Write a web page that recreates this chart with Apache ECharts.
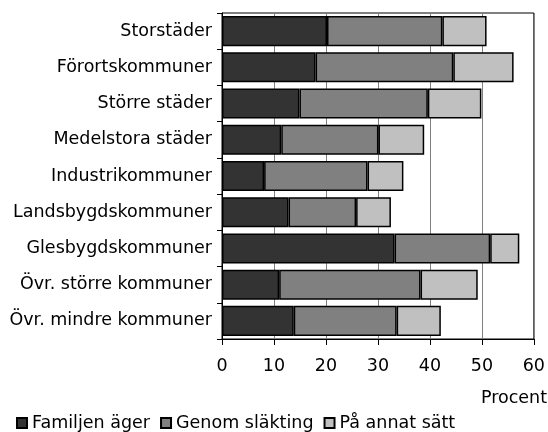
<!DOCTYPE html>
<html><head><meta charset="utf-8">
<script src="https://cdn.jsdelivr.net/npm/echarts@6/dist/echarts.min.js"></script>
<style>html,body{margin:0;padding:0;background:#fff}#c{width:548px;height:432px}</style>
</head><body><div id="c"></div>
<script>
const categories = ["Storstäder","Förortskommuner","Större städer","Medelstora städer","Industrikommuner","Landsbygdskommuner","Glesbygdskommuner","Övr. större kommuner","Övr. mindre kommuner"];
const familjenAger = [20.2, 18.0, 14.9, 11.4, 8.1, 12.8, 33.2, 11.0, 13.8];
const genomSlakting = [22.2, 26.5, 24.7, 18.7, 19.9, 13.0, 18.4, 27.2, 19.8];
const paAnnatSatt = [8.5, 11.6, 10.3, 8.8, 6.9, 6.7, 5.6, 11.0, 8.5];
const xTicks = [0, 10, 20, 30, 40, 50, 60];
const seriesNames = ["Familjen äger","Genom släkting","På annat sätt"];
const colors = ["#333333","#808080","#c0c0c0"];
const font = "DejaVu Sans, sans-serif";
const fs = 17.5;
const chart = echarts.init(document.getElementById('c'));
const data = [familjenAger, genomSlakting, paAnnatSatt];
chart.setOption({
  animation: false,
  textStyle: {fontFamily: font},
  grid: {left: 222, right: 12, top: 13, bottom: 93, show: true, borderColor: '#000', borderWidth: 1, containLabel: false},
  legend: {
    left: 16, top: 414, padding: 0, itemWidth: 10, itemHeight: 10, itemGap: 10, icon: 'rect',
    textStyle: {fontSize: fs, color: '#000', fontFamily: font},
    data: seriesNames
  },
  graphic: [{type: 'text', right: 1, top: 389, style: {text: 'Procent', fontSize: fs, fontFamily: font, fill: '#000'}}],
  xAxis: {
    type: 'value', min: xTicks[0], max: xTicks[xTicks.length-1], interval: 10,
    axisLine: {show: true, lineStyle: {color: '#000', width: 1}},
    axisTick: {show: true, length: 6, lineStyle: {color: '#000'}},
    axisLabel: {fontSize: fs, color: '#000', margin: 18, fontFamily: font},
    splitLine: {show: true, lineStyle: {color: '#808080', width: 1}}
  },
  yAxis: {
    type: 'category', data: categories, inverse: true,
    axisLine: {show: true, lineStyle: {color: '#000', width: 1}},
    axisTick: {show: true, length: 5, lineStyle: {color: '#000'}},
    axisLabel: {fontSize: fs, color: '#000', margin: 10, fontFamily: font},
    splitLine: {show: false}
  },
  series: data.map((d, i) => ({
    name: seriesNames[i], type: 'bar', stack: 'total', data: d,
    barCategoryGap: '17%',
    itemStyle: {color: colors[i], borderColor: '#000', borderWidth: 1.5}
  }))
});
</script></body></html>
